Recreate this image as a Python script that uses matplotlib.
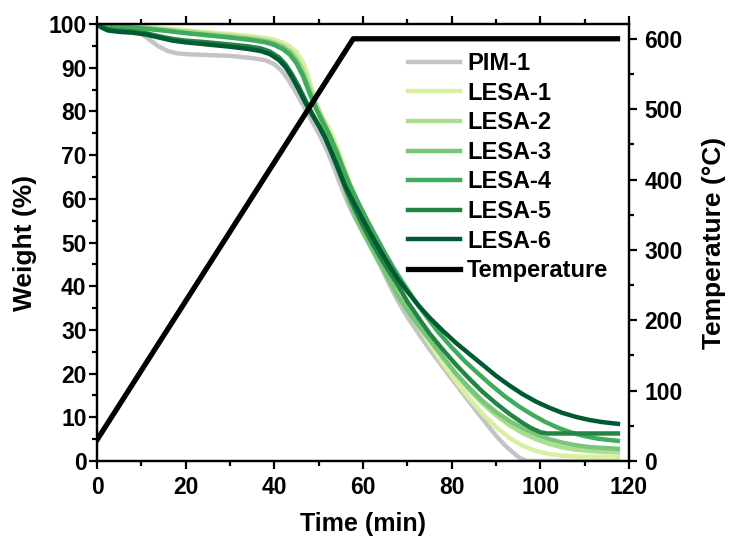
import matplotlib
matplotlib.use("Agg")
import matplotlib.pyplot as plt
from matplotlib.ticker import MultipleLocator

plt.rcParams['font.family'] = ['Liberation Sans', 'DejaVu Sans']
plt.rcParams['font.weight'] = 'bold'

# data
names = ['PIM-1', 'LESA-1', 'LESA-2', 'LESA-3', 'LESA-4', 'LESA-5', 'LESA-6']
colors = ['#c4c4c4', '#d9f0a3', '#addd8e', '#78c679', '#41ab5d', '#238443', '#005a32']

t_pim = [0, 2, 5, 8, 10, 12, 14, 16, 18, 20, 25, 30, 35, 38, 40, 41.5, 43, 44.5, 46, 47.5, 49, 50.5, 52, 53.5, 55, 56.5,
         58, 60, 62, 64, 66, 68, 70, 72.5, 75, 78, 81, 84, 87, 90, 92, 94, 95.5, 97, 117.5]
w_pim = [100, 99.4, 99.0, 98.5, 97.8, 96.3, 94.8, 93.8, 93.3, 93.1, 92.9, 92.7, 92.2, 91.7, 90.8, 89.5, 87.5, 85, 82.3, 79.6,
         76.8, 74, 70.8, 67, 63, 59.2, 56, 52.3, 48.5, 44.5, 40.3, 36.4, 33, 29.2, 25.6, 21.5, 17.5, 13.5, 9.6, 5.8, 3.6, 1.8,
         0.6, 0, 0]

t_l1 = [0, 2, 5, 10, 15, 20, 25, 30, 35, 38, 40, 42, 43.5, 45, 46.5, 47.5, 48.5, 49.5, 51, 52.5, 54, 55.5, 57, 58.5, 60,
        62, 64, 66, 68, 70, 72.5, 75, 78, 81, 84, 87, 90, 93, 96, 99, 102, 105, 110, 117.5]
w_l1 = [100, 99.9, 99.7, 99.4, 99.0, 98.6, 98.1, 97.7, 97.2, 96.8, 96.4, 95.7, 94.9, 93.6, 91.2, 88.5, 85, 81.5, 78.5, 75.8,
        72.2, 68, 63.5, 59.2, 55.3, 50.8, 46.6, 42.6, 38.8, 35.2, 30.9, 26.9, 22.4, 18.2, 14.3, 10.8, 7.8, 5.3, 3.5, 2.3,
        1.6, 1.2, 1.0, 0.9]

t_l2 = [0, 2, 5, 10, 15, 20, 25, 30, 35, 38, 40, 42, 43.5, 45, 46.5, 48, 49.5, 51, 52.5, 54, 55.5, 57, 58.5, 60, 62, 64,
        66, 68, 70, 72.5, 75, 78, 81, 84, 87, 90, 93, 96, 99, 102, 105, 108, 111, 114, 117.5]
w_l2 = [100, 99.85, 99.6, 99.3, 98.8, 98.3, 97.8, 97.3, 96.8, 96.3, 95.8, 95, 94, 92.3, 89.5, 85.5, 81.5, 78, 74.5, 70.2,
        65.8, 61.5, 57.5, 54, 50, 46.3, 42.6, 39, 35.6, 31.6, 28, 23.8, 19.8, 16.2, 13.1, 10.5, 8.2, 6.4, 5.0, 3.9, 3.1,
        2.6, 2.3, 2.1, 2.0]

t_l3 = [0, 2, 5, 10, 15, 20, 25, 30, 35, 38, 40, 42, 43.5, 45, 46.5, 48, 49.5, 51, 52.5, 54, 55.5, 57, 58.5, 60, 62, 64,
        66, 68, 70, 72.5, 75, 78, 81, 84, 87, 90, 93, 96, 99, 102, 105, 108, 111, 114, 117.5]
w_l3 = [100, 99.8, 99.5, 99.1, 98.6, 98.0, 97.5, 97.0, 96.5, 96.0, 95.5, 94.6, 93.5, 91.5, 88.5, 84.5, 80.5, 77, 73.5,
        69, 64, 59, 55.5, 52.3, 48.6, 45, 41.2, 37.5, 34.5, 31, 27.8, 23.8, 20, 16.7, 13.7, 11.2, 9.2, 7.5, 6.1, 5.0, 4.2,
        3.6, 3.2, 3.0, 2.8]

t_l4 = [0, 2, 5, 10, 15, 20, 25, 30, 35, 38, 40, 42, 43.5, 45, 46.5, 48, 49.5, 51, 52.5, 54, 55.5, 57, 59, 61, 63, 65,
        67, 69, 71.5, 74, 77, 80, 83, 86, 89, 92, 95, 98, 101, 104, 107, 110, 113, 117.5]
w_l4 = [100, 99.7, 99.4, 99.0, 98.5, 97.9, 97.4, 96.9, 96.3, 95.8, 95.2, 94.2, 93, 91, 88, 84, 80.5, 77.5, 74.5, 71, 67,
        63.3, 59, 55, 51.2, 47.5, 44, 40.8, 37, 33.5, 29.5, 26, 22.8, 20, 17.3, 14.8, 12.6, 10.7, 9.0, 7.6, 6.5, 5.7, 5.1,
        4.6]

t_l5 = [0, 1, 2.5, 5, 8, 11, 14, 17, 20, 25, 30, 34, 37, 39, 41, 42.5, 44, 45.5, 47, 48.5, 50, 51.5, 53, 54.5, 56, 58, 60,
        62, 64, 66, 68, 70, 72.5, 75, 78, 81, 84, 87, 90, 93, 96, 98, 100, 101.5, 117.5]
w_l5 = [100, 99.4, 98.8, 98.5, 98.3, 97.9, 97.2, 96.6, 96.2, 95.8, 95.3, 94.9, 94.4, 93.7, 92.4, 90.8, 88.5, 85.7, 82.6,
        79.6, 76.8, 73.8, 70.2, 66.4, 62.5, 58, 53.8, 50, 46.5, 43.2, 40, 36.5, 32.8, 29.2, 25.5, 22, 18.8, 15.8, 13.2,
        10.8, 8.7, 7.5, 6.6, 6.3, 6.3]

t_l6 = [0, 1, 2.5, 5, 8, 11, 14, 17, 20, 25, 30, 34, 37, 39, 41, 42.5, 44, 45.5, 47, 48.5, 50, 51.5, 53, 54.5, 56, 58, 60,
        62, 64, 66, 68, 70, 72.5, 75, 78, 81, 84, 87, 90, 93, 96, 99, 102, 105, 108, 111, 114, 117.5]
w_l6 = [100, 99.2, 98.5, 98.2, 98.0, 97.6, 96.9, 96.2, 95.8, 95.3, 94.8, 94.3, 93.8, 93.1, 91.8, 90.2, 87.8, 85, 82,
        79.3, 76.8, 74, 70.5, 66.8, 63, 59, 55.2, 51.5, 48, 44.6, 41.5, 38.8, 35.6, 32.8, 29.8, 27, 24.5, 22, 19.5, 17.3,
        15.3, 13.6, 12.2, 11, 10.1, 9.4, 8.9, 8.5]

t_temp = [0, 57.8, 117.4]
temp = [30, 600, 600]

times = [t_pim, t_l1, t_l2, t_l3, t_l4, t_l5, t_l6]
weights = [w_pim, w_l1, w_l2, w_l3, w_l4, w_l5, w_l6]

fig = plt.figure(figsize=(7.34, 5.41), dpi=100)
ax = fig.add_axes([97/734, 80/541, 532/734, 437/541])
ax2 = ax.twinx()

handles = []
for t, w, c, n in zip(times, weights, colors, names):
    h, = ax.plot(t, w, color=c, lw=3.2, label=n, solid_joinstyle='round')
    handles.append(h)
ht, = ax2.plot(t_temp, temp, color='black', lw=3.8, label='Temperature')
handles.append(ht)

ax.set_xlim(0, 120)
ax.set_ylim(0, 100)
ax2.set_ylim(0, 621)

ax.xaxis.set_major_locator(MultipleLocator(20))
ax.xaxis.set_minor_locator(MultipleLocator(10))
ax.yaxis.set_major_locator(MultipleLocator(10))
ax.yaxis.set_minor_locator(MultipleLocator(5))
ax2.yaxis.set_major_locator(MultipleLocator(100))
ax2.yaxis.set_minor_locator(MultipleLocator(50))

for a in (ax, ax2):
    for s in a.spines.values():
        s.set_linewidth(1.6)
    a.tick_params(which='major', direction='out', length=6, width=1.6, labelsize=16.5)
    a.tick_params(which='minor', direction='out', length=3.5, width=1.6)
ax.tick_params(axis='x', which='both', top=True)
ax.tick_params(axis='x', which='major', pad=5)
ax.tick_params(axis='y', which='major', pad=1.5)
ax2.tick_params(axis='y', which='major', pad=5)

ax.set_xlabel('Time (min)', fontsize=18, fontweight='bold', labelpad=9)
ax.set_ylabel('Weight (%)', fontsize=19, fontweight='bold', labelpad=8)
ax2.set_ylabel('Temperature (°C)', fontsize=19, fontweight='bold', labelpad=14)

ax2.legend(handles=handles, loc='upper left', bbox_to_anchor=(408/734, 1 - 52/541),
           bbox_transform=fig.transFigure, frameon=False, fontsize=17,
           handlelength=2.2, handletextpad=0.3, labelspacing=0.28,
           borderpad=0, borderaxespad=0)

fig.savefig('out.png', dpi=100)
